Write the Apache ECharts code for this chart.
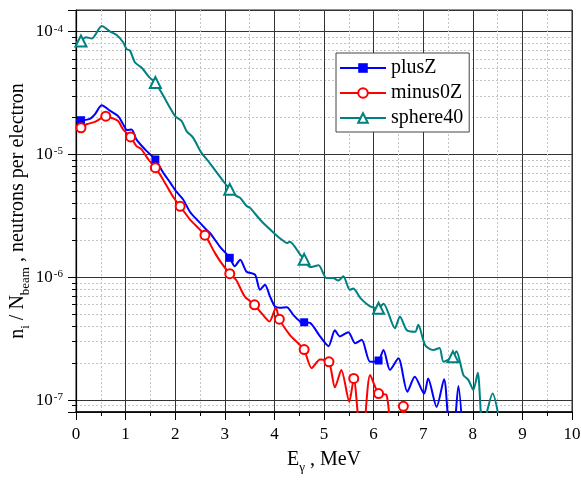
<!DOCTYPE html>
<html>
<head>
<meta charset="utf-8">
<script src="https://cdn.jsdelivr.net/npm/echarts@6/dist/echarts.min.js"></script>
<style>
  html, body { margin: 0; padding: 0; background: #fff; }
  #chart { width: 581px; height: 480px; }
</style>
</head>
<body>
<div id="chart"></div>
<script>
// Photon-energy spectra of neutrons per beam electron, three target setups.

// ---- data ----
const plusZEnergy = [0, 0.1, 0.28, 0.38, 0.52, 0.69, 0.85, 0.95, 1.03, 1.12, 1.22, 1.39, 1.53, 1.6, 1.76, 1.9,
  2.02, 2.16, 2.3, 2.5, 2.63, 2.7, 2.9, 3.1, 3.2, 3.31, 3.44, 3.61, 3.71, 3.81, 3.91, 4.01, 4.11, 4.25, 4.38,
  4.52, 4.6, 4.72, 4.92, 5.09, 5.22, 5.32, 5.49, 5.63, 5.76, 5.93, 6.1, 6.2, 6.33, 6.5, 6.68, 6.83, 7.02, 7.1,
  7.27, 7.42, 7.52, 7.6, 7.71, 7.8];
const plusZValues = [1.9e-5, 1.9e-5, 1.95e-5, 2.12e-5, 2.51e-5, 2.26e-5, 2.05e-5, 1.76e-5, 1.58e-5, 1.6e-5,
  1.32e-5, 1.1e-5, 9.7e-6, 9.1e-6, 7.1e-6, 5.9e-6, 5.0e-6, 4.3e-6, 3.4e-6, 2.77e-6, 2.44e-6, 2.3e-6, 1.78e-6,
  1.44e-6, 1.23e-6, 1.39e-6, 1.11e-6, 1.05e-6, 7.9e-7, 8.7e-7, 7.0e-7, 5.8e-7, 5.65e-7, 5.7e-7, 4.94e-7,
  4.36e-7, 4.3e-7, 4.25e-7, 3.3e-7, 2.75e-7, 3.7e-7, 3.3e-7, 3.57e-7, 2.9e-7, 3.1e-7, 2.05e-7, 2.1e-7,
  2.56e-7, 1.76e-7, 2.19e-7, 1.17e-7, 1.55e-7, 1.13e-7, 1.5e-7, 8.8e-8, 1.48e-7, 6e-8, 5e-8, 1.3e-7, 5e-8];
const plusZMarks = [0.1, 1.6, 3.1, 4.6, 6.1];

const minus0ZEnergy = [0, 0.1, 0.21, 0.38, 0.6, 0.72, 0.85, 0.95, 1.1, 1.22, 1.32, 1.46, 1.6, 1.76, 1.96, 2.1,
  2.3, 2.6, 2.8, 2.93, 3.1, 3.23, 3.4, 3.6, 3.74, 3.9, 4.03, 4.1, 4.31, 4.48, 4.6, 4.75, 4.92, 5.1, 5.22, 5.35,
  5.51, 5.6, 5.71, 5.78, 5.93, 6.1, 6.26, 6.38, 6.5, 6.6, 6.7];
const minus0ZValues = [1.62e-5, 1.65e-5, 1.76e-5, 1.84e-5, 2.05e-5, 1.98e-5, 1.87e-5, 1.6e-5, 1.39e-5, 1.17e-5,
  1.1e-5, 9.1e-6, 7.8e-6, 6.2e-6, 4.5e-6, 3.78e-6, 2.95e-6, 2.2e-6, 1.58e-6, 1.31e-6, 1.07e-6, 9.5e-7, 7.0e-7,
  5.97e-7, 5.1e-7, 4.36e-7, 5.65e-7, 4.56e-7, 3.4e-7, 2.9e-7, 2.58e-7, 1.82e-7, 2.14e-7, 2.05e-7, 1.27e-7,
  1.76e-7, 9.7e-8, 1.5e-7, 6e-8, 5e-8, 1.6e-7, 1.13e-7, 1.1e-7, 5e-8, 5e-8, 8.9e-8, 5e-8];
const minus0ZMarks = [0.1, 0.6, 1.1, 1.6, 2.1, 2.6, 3.1, 3.6, 4.1, 4.6, 5.1, 5.6, 6.1, 6.6];

const sphere40Energy = [0, 0.1, 0.2, 0.32, 0.52, 0.69, 0.82, 0.95, 1.02, 1.09, 1.19, 1.32, 1.49, 1.6, 1.76,
  2.0, 2.13, 2.23, 2.36, 2.53, 2.67, 2.84, 2.95, 3.1, 3.23, 3.31, 3.44, 3.51, 3.74, 4.05, 4.15, 4.25, 4.31,
  4.52, 4.6, 4.72, 4.89, 5.05, 5.18, 5.29, 5.39, 5.52, 5.59, 5.73, 5.93, 6.1, 6.2, 6.43, 6.53, 6.67, 6.84, 6.9,
  7.04, 7.2, 7.33, 7.41, 7.6, 7.67, 7.81, 7.91, 8.01, 8.1, 8.2, 8.4, 8.53];
const sphere40Values = [8.2e-5, 8.4e-5, 9.0e-5, 8.8e-5, 1.11e-4, 1.0e-4, 9.4e-5, 8.2e-5, 7.2e-5, 7.0e-5,
  5.6e-5, 5.1e-5, 4.2e-5, 3.85e-5, 3.0e-5, 2.05e-5, 1.87e-5, 1.55e-5, 1.37e-5, 1.03e-5, 8.8e-6, 7.1e-6, 6.2e-6,
  5.2e-6, 4.6e-6, 4.43e-6, 3.8e-6, 3.67e-6, 2.86e-6, 2.18e-6, 2.02e-6, 1.9e-6, 1.95e-6, 1.53e-6, 1.4e-6,
  1.21e-6, 1.25e-6, 9.85e-7, 9.85e-7, 9.4e-7, 1.02e-6, 7.9e-7, 8.1e-7, 6.8e-7, 5.8e-7, 5.6e-7, 6.1e-7, 3.85e-7,
  4.8e-7, 3.7e-7, 3.6e-7, 4.1e-7, 2.8e-7, 2.56e-7, 2.66e-7, 2.05e-7, 2.25e-7, 2.5e-7, 1.6e-7, 1.46e-7, 1.21e-7,
  1.67e-7, 6e-8, 1.13e-7, 7e-8];
const sphere40Marks = [0.1, 1.6, 3.1, 4.6, 6.1, 7.6];

// axis ranges and ticks
const energyMin = 0, energyMax = 10, energyStep = 1;
const yieldMin = 8e-8, yieldMax = 1.5e-4;
const decadeExponents = [-8, -7, -6, -5, -4];
const minorMantissas = [2, 3, 4, 5, 6, 7, 8, 9];

// ---- helpers ----
const FONT = '"Liberation Serif", "Times New Roman", serif';

function seriesPoints(energy, values, marks) {
  return energy.map((e, i) => {
    const item = { value: [e, values[i]] };
    if (!marks.includes(e)) item.symbol = 'none';
    return item;
  });
}

const minorYieldTicks = [];
decadeExponents.forEach(p => {
  minorMantissas.forEach(m => {
    const v = m * Math.pow(10, p);
    if (v > yieldMin && v < yieldMax) minorYieldTicks.push(v);
  });
});

function isDecade(v) {
  const e = Math.log10(v);
  return Math.abs(e - Math.round(e)) < 1e-6;
}

const titleRich = {
  n: { fontFamily: FONT, fontSize: 20, color: '#000', lineHeight: 22, verticalAlign: 'top' },
  sub: { fontFamily: FONT, fontSize: 13, color: '#000', lineHeight: 13, verticalAlign: 'top', padding: [11, 0, 0, 0] }
};

const chart = echarts.init(document.getElementById('chart'), null, { renderer: 'canvas' });

chart.setOption({
  animation: false,
  backgroundColor: '#fff',
  grid: {
    left: 76, right: 9, top: 10, bottom: 68,
    containLabel: false,
    outerBoundsMode: 'none',
    show: true, borderColor: '#222', borderWidth: 1, backgroundColor: 'transparent'
  },
  legend: {
    orient: 'vertical',
    left: 336, top: 53,
    padding: [5, 6, 4, 3],
    itemWidth: 46, itemHeight: 12, itemGap: 5,
    backgroundColor: '#fff',
    borderColor: '#444', borderWidth: 1, borderRadius: 0,
    textStyle: { fontFamily: FONT, fontSize: 20, color: '#000' },
    data: ['plusZ', 'minus0Z', 'sphere40']
  },
  xAxis: {
    type: 'value',
    min: energyMin, max: energyMax, interval: energyStep,
    axisLine: { onZero: false, lineStyle: { color: '#000', width: 1.5 } },
    axisTick: { length: 8, lineStyle: { color: '#000' } },
    minorTick: { show: true, splitNumber: 2, length: 4, lineStyle: { color: '#000' } },
    axisLabel: { margin: 14, fontFamily: FONT, fontSize: 17, color: '#000' },
    splitLine: { show: true, lineStyle: { color: '#333', width: 1 } },
    minorSplitLine: { show: true, lineStyle: { color: '#c4c4c4', width: 1, type: [2, 2] } },
    name: '{n|E}{sub|γ}{n| , MeV}',
    nameLocation: 'middle',
    nameGap: 38,
    nameMoveOverlap: false,
    nameTextStyle: { rich: titleRich }
  },
  yAxis: [
    {
      type: 'log',
      min: yieldMin, max: yieldMax,
      position: 'left',
      axisLine: { show: true, lineStyle: { color: '#000', width: 1.2 } },
      axisTick: { show: true, length: 8, lineStyle: { color: '#000' } },
      axisLabel: {
        margin: 13,
        formatter: v => isDecade(v) ? '{b|10}{s|' + Math.round(Math.log10(v)) + '}' : '',
        rich: {
          b: { fontFamily: FONT, fontSize: 17, color: '#000' },
          s: { fontFamily: FONT, fontSize: 11, color: '#000', verticalAlign: 'top', padding: [0, 0, 0, 1] }
        }
      },
      splitLine: { show: true, lineStyle: { color: '#333', width: 1 } },
      name: '{n|n}{sub|i}{n| / N}{sub|beam}{n| , neutrons per electron}',
      nameLocation: 'middle',
      nameGap: 46,
      nameRotate: 90,
      nameMoveOverlap: false,
      nameTextStyle: { rich: titleRich }
    },
    {
      // minor decades: 2..9 × 10^n ticks and dotted grid
      type: 'log',
      min: yieldMin, max: yieldMax,
      position: 'left',
      axisLine: { show: false },
      axisTick: { show: true, length: 4, customValues: minorYieldTicks, lineStyle: { color: '#000' } },
      axisLabel: { show: false },
      splitLine: { show: true, lineStyle: { color: '#c4c4c4', width: 1, type: [2, 2] } }
    }
  ],
  series: [
    {
      name: 'plusZ', type: 'line', yAxisIndex: 0,
      data: seriesPoints(plusZEnergy, plusZValues, plusZMarks),
      smooth: 0.25, symbol: 'rect', symbolSize: 8, showAllSymbol: true,
      lineStyle: { color: '#0000ff', width: 2 },
      itemStyle: { color: '#0000ff' },
      emphasis: { disabled: true }
    },
    {
      name: 'minus0Z', type: 'line', yAxisIndex: 0,
      data: seriesPoints(minus0ZEnergy, minus0ZValues, minus0ZMarks),
      smooth: 0.25, symbol: 'emptyCircle', symbolSize: 9, showAllSymbol: true,
      lineStyle: { color: '#ff0000', width: 2 },
      itemStyle: { color: '#ff0000', borderWidth: 1.5 },
      emphasis: { disabled: true }
    },
    {
      name: 'sphere40', type: 'line', yAxisIndex: 0,
      data: seriesPoints(sphere40Energy, sphere40Values, sphere40Marks),
      smooth: 0.25, symbol: 'emptyTriangle', symbolSize: 11, showAllSymbol: true,
      lineStyle: { color: '#008080', width: 2 },
      itemStyle: { color: '#008080', borderWidth: 1.5 },
      emphasis: { disabled: true }
    }
  ]
});
</script>
</body>
</html>
